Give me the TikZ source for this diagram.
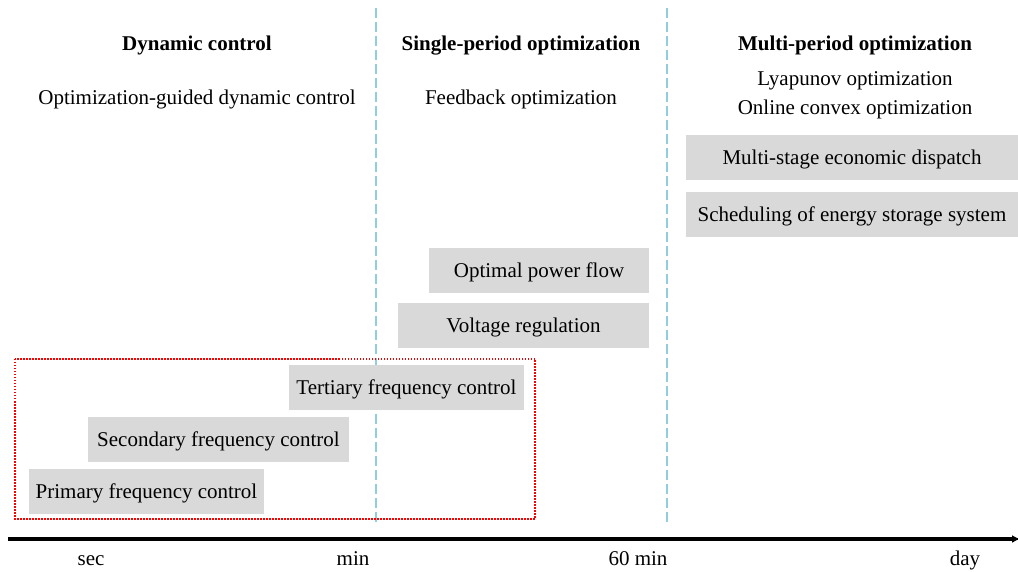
\documentclass[tikz,border=0pt]{standalone}
\usepackage{fontspec}
\setmainfont{Liberation Serif}
\usetikzlibrary{arrows.meta}
\tikzstyle{timeScale} = [x = 0.5pt, y = -0.5pt, every node/.style={font=\fontsize{10.5}{12.6}\selectfont, inner sep=0pt}]
\definecolor{boxColor}{RGB}{217,217,217}
\definecolor{borderColor}{RGB}{146,205,222}
\tikzstyle{boxStyle} = [fill=boxColor]
\tikzstyle{boxText} = [midway, text height=7pt, text depth=2.2pt, yshift=-1pt]
\tikzstyle{headerText} = [font=\fontsize{10.5}{12.6}\selectfont\bfseries, anchor=base]
\tikzstyle{plainText} = [anchor=base]
\tikzstyle{borderLine} = [color=borderColor, line width=0.7pt, dash pattern=on 5pt off 2pt]
\tikzstyle{groupFrame} = [color=red, line width=0.6pt, dash pattern=on 0.75pt off 0.75pt]
\tikzstyle{axisLine} = [line width=1.6pt, -{Latex[length=4pt,width=4pt]}]
\newcommand{\methodBox}[6]{\fill [boxStyle] (#2, #3) rectangle (#4, #5) node [boxText] (#1) {#6};}
\newcommand{\periodBorder}[2]{
  \coordinate (#1Top) at (#2, 8);
  \coordinate (#1Bottom) at (#2, 525);
  \draw [borderLine] (#1Top) -- (#1Bottom);
}

\begin{document}
\begin{tikzpicture}[timeScale]
  \useasboundingbox (0,0) rectangle (1018,572);

  % period borders
  \periodBorder{minBorder}{376}
  \periodBorder{hourBorder}{667}

  % headers
  \node [headerText] (dynamicHead) at (197, 51) {Dynamic control};
  \node [headerText] (singleHead) at (521, 51) {Single-period optimization};
  \node [headerText] (multiHead) at (855, 51) {Multi-period optimization};

  \node [plainText] (guidedControl) at (197, 105) {Optimization-guided dynamic control};
  \node [plainText] (feedbackOpt) at (521, 105) {Feedback optimization};
  \node [plainText] (lyapunovOpt) at (855, 86) {Lyapunov optimization};
  \node [plainText] (onlineOpt) at (855, 115) {Online convex optimization};

  % boxes
  \methodBox{economicDispatch}{686}{135}{1018}{180}{Multi-stage economic dispatch}
  \methodBox{storageScheduling}{686}{192}{1018}{237}{Scheduling of energy storage system}
  \methodBox{powerFlow}{429}{248}{649}{293}{Optimal power flow}
  \methodBox{voltageRegulation}{398}{303}{649}{348}{Voltage regulation}
  \methodBox{tertiaryControl}{289}{365}{524}{410}{Tertiary frequency control}
  \methodBox{secondaryControl}{88}{417}{349}{462}{Secondary frequency control}
  \methodBox{primaryControl}{29}{469}{264}{514}{Primary frequency control}

  \draw [groupFrame] (15, 359) rectangle (535, 519);

  % time axis
  \coordinate (axisStart) at (8, 539);
  \coordinate (axisEnd) at (1020, 539);
  \draw [axisLine] (axisStart) -- (axisEnd);
  \node [plainText] (secLabel) at (91, 565) {sec};
  \node [plainText] (minLabel) at (353, 565) {min};
  \node [plainText] (hourLabel) at (638, 565) {60 min};
  \node [plainText] (dayLabel) at (965, 565) {day};
\end{tikzpicture}
\end{document}
